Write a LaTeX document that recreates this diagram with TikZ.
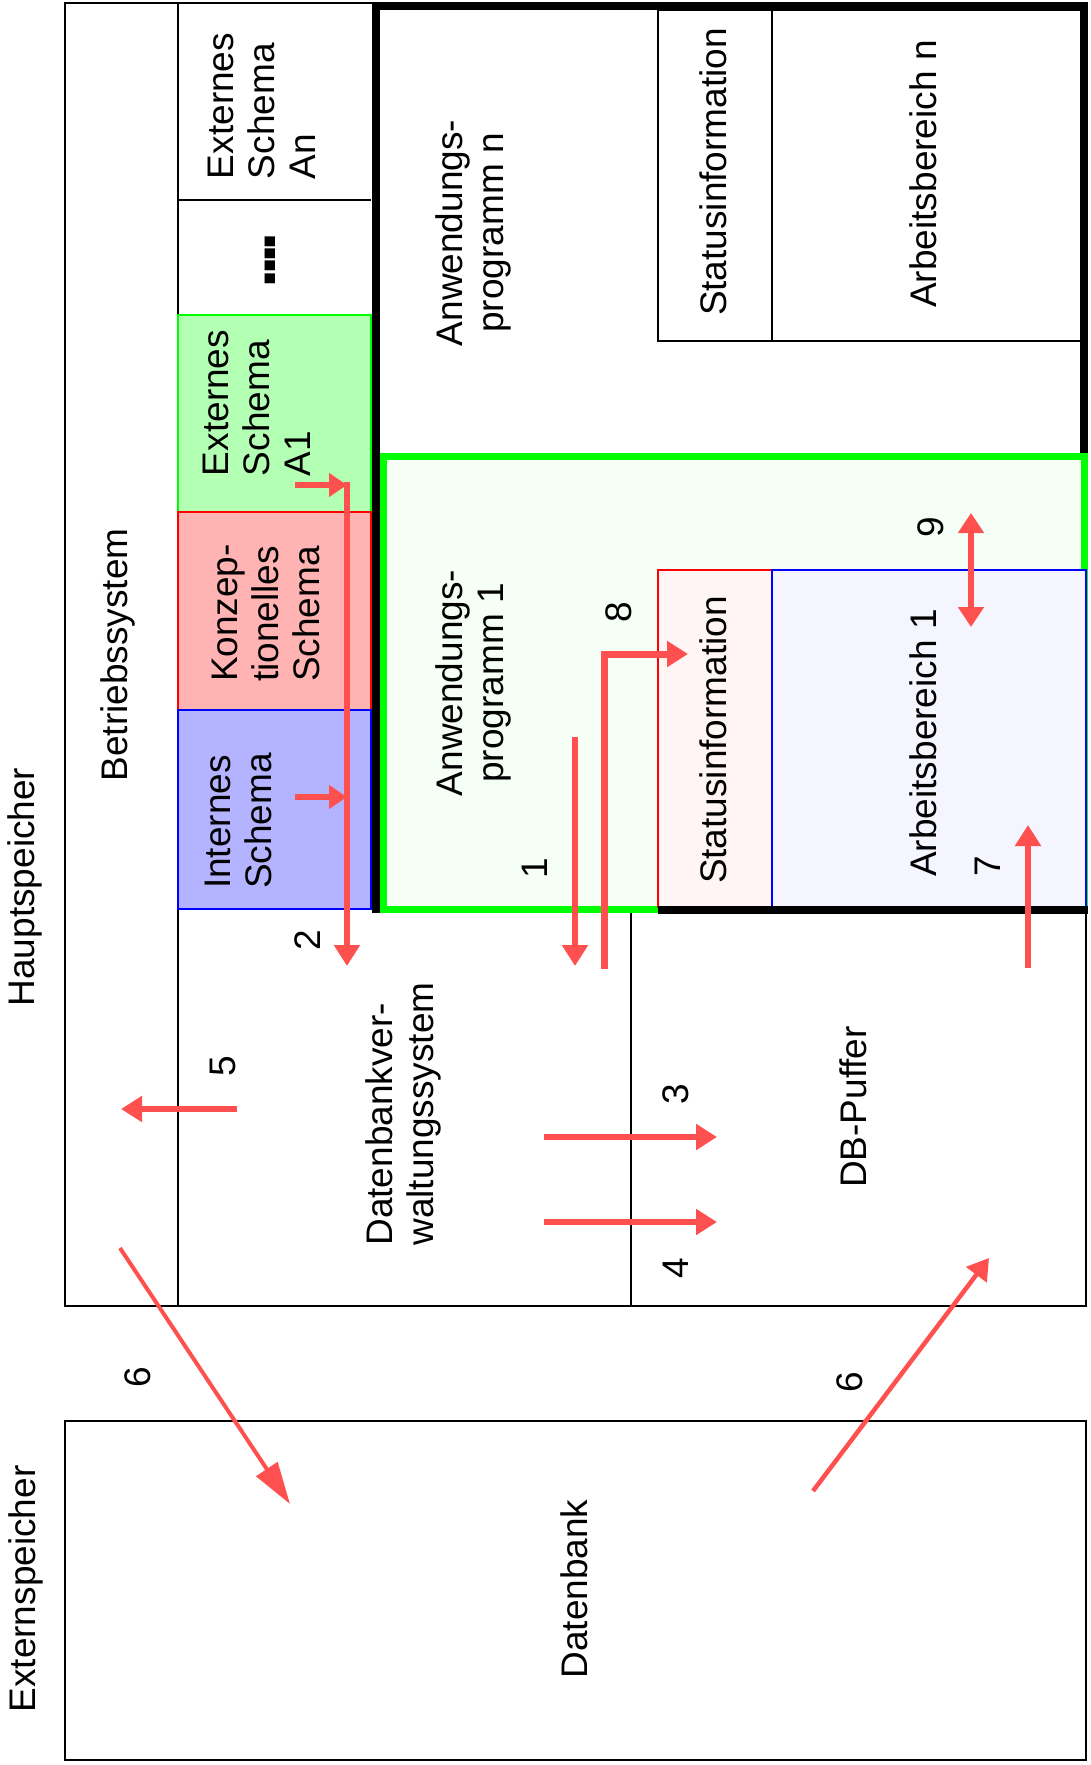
\documentclass[tikz,border=0pt]{standalone}
\usepackage{fontspec}
\setmainfont{Liberation Sans}
\usetikzlibrary{arrows.meta}

\definecolor{rotpfeil}{RGB}{255,80,80}
\definecolor{gruenhell}{RGB}{179,255,179}
\definecolor{rosa}{RGB}{255,179,179}
\definecolor{blauhell}{RGB}{179,179,255}
\definecolor{gruenblass}{RGB}{245,255,245}
\definecolor{rosablass}{RGB}{255,245,245}
\definecolor{blaublass}{RGB}{245,245,255}

\begin{document}
\begin{tikzpicture}[x=1pt, y=-1pt,
  duenn/.style={draw=black, line width=2pt},
  dick/.style={draw=black, line width=8pt},
  schrift/.style={rotate=90, inner sep=0pt, font=\fontsize{37}{41}\selectfont},
  pfeil/.style={draw=rotpfeil, line width=5.5pt, -{Triangle[length=21pt, width=25pt]}},
]
\useasboundingbox (0,0) rectangle (1091,1765);

% Hauptspeicher
\draw[duenn] (65,3) rectangle (1086,1306);
\draw[duenn] (178,3) -- (178,1306);
\draw[duenn] (631,909) -- (631,1306);

% Schemata
\draw[duenn] (178,200) -- (371,200);
\draw[line width=2pt, draw=green, fill=gruenhell] (178,315) rectangle (371,512);
\draw[line width=2pt, draw=red, fill=rosa] (178,512) rectangle (371,710);
\draw[line width=2pt, draw=blue, fill=blauhell] (178,710) rectangle (371,909);

% Anwendungsprogramme
\draw[dick] (376,913) -- (376,6) -- (1084,6) -- (1084,456);
\draw[duenn] (658,10) rectangle (772,341);
\draw[duenn] (772,10) rectangle (1082,341);
\draw[line width=7pt, draw=green, fill=gruenblass] (383,456) rectangle (1084,909);
\draw[line width=1.5pt, draw=red, fill=rosablass] (658,570) rectangle (772,907);
\draw[line width=1.5pt, draw=blue, fill=blaublass] (772,570) rectangle (1086,907);
\draw[dick] (658,910) -- (1088,910);

% Externspeicher
\draw[duenn] (65,1421) rectangle (1086,1760);

% Beschriftung
\node[schrift] (hs) at (25,887) {Hauptspeicher};
\node[schrift] (es) at (26,1589) {Externspeicher};
\node[schrift] (bs) at (118,655) {Betriebssystem};
\node[schrift, align=left] (extAn) at (262,106) {Externes\\Schema\\An};
\node[schrift, font=\fontsize{70}{70}\selectfont\bfseries\addfontfeature{LetterSpace=-10}] (punkte) at (270,260) {....};
\node[schrift, align=left] (extA1) at (257,403) {Externes\\Schema\\A1};
\node[schrift, align=left] (konz) at (266,613) {Konzep-\\tionelles\\Schema};
\node[schrift, align=left] (intern) at (238,821) {Internes\\Schema};
\node[schrift, align=center] (appn) at (473,233) {Anwendungs-\\programm n};
\node[schrift] (statn) at (713,172) {Statusinformation};
\node[schrift] (arbn) at (923,174) {Arbeitsbereich n};
\node[schrift, align=center] (app1) at (473,683) {Anwendungs-\\programm 1};
\node[schrift] (stat1) at (713,740) {Statusinformation};
\node[schrift] (arb1) at (923,743) {Arbeitsbereich 1};
\node[schrift, align=left] (dbms) at (403,1114) {Datenbankver-\\waltungssystem};
\node[schrift] (puffer) at (853,1107) {DB-Puffer};
\node[schrift] (db) at (574,1589) {Datenbank};

% Nummern
\foreach \nr/\px/\py in {1/535/868, 2/308/940, 3/676/1094, 4/676/1268, 5/223/1066, 7/988/866, 8/619/612, 9/931/527}
  \node[schrift] (nr\nr) at (\px,\py) {\nr};
\node[schrift] (nr6a) at (138,1377) {6};
\node[schrift] (nr6b) at (850,1382) {6};

% Pfeile
\coordinate (a1s) at (575,737);  \coordinate (a1e) at (575,966);
\coordinate (a2s) at (347,482);  \coordinate (a2e) at (347,966);
\coordinate (a2o) at (295,485);  \coordinate (a2u) at (295,797);
\coordinate (a3s) at (544,1137); \coordinate (a3e) at (717,1137);
\coordinate (a4s) at (544,1222); \coordinate (a4e) at (717,1222);
\coordinate (a5s) at (237,1109); \coordinate (a5e) at (121,1109);
\coordinate (a6ls) at (120,1248); \coordinate (a6le) at (290,1504);
\coordinate (a6rs) at (813,1491); \coordinate (a6re) at (989,1258);
\coordinate (a7s) at (1028,968); \coordinate (a7e) at (1028,825);
\coordinate (a8s) at (604,969);  \coordinate (a8e) at (688,654);
\coordinate (a9s) at (971,513);  \coordinate (a9e) at (971,627);

\draw[pfeil] (a1s) -- (a1e);
\draw[pfeil] (a2s) -- (a2e);
\draw[pfeil, -{Triangle[length=18pt, width=23pt]}] (a2o) -- (a2o -| a2s);
\draw[pfeil, -{Triangle[length=18pt, width=23pt]}] (a2u) -- (a2u -| a2s);
\draw[pfeil] (a3s) -- (a3e);
\draw[pfeil] (a4s) -- (a4e);
\draw[pfeil] (a5s) -- (a5e);
\draw[pfeil, line width=4pt, -{Triangle[length=42pt, width=25pt]}] (a6ls) -- (a6le);
\draw[pfeil, line width=4.5pt] (a6rs) -- (a6re);
\draw[pfeil] (a7s) -- (a7e);
\draw[pfeil, line width=7pt] (a8s) |- (a8e);
\draw[pfeil, {Triangle[length=20pt, width=25pt]}-{Triangle[length=20pt, width=25pt]}] (a9s) -- (a9e);
\end{tikzpicture}
\end{document}
